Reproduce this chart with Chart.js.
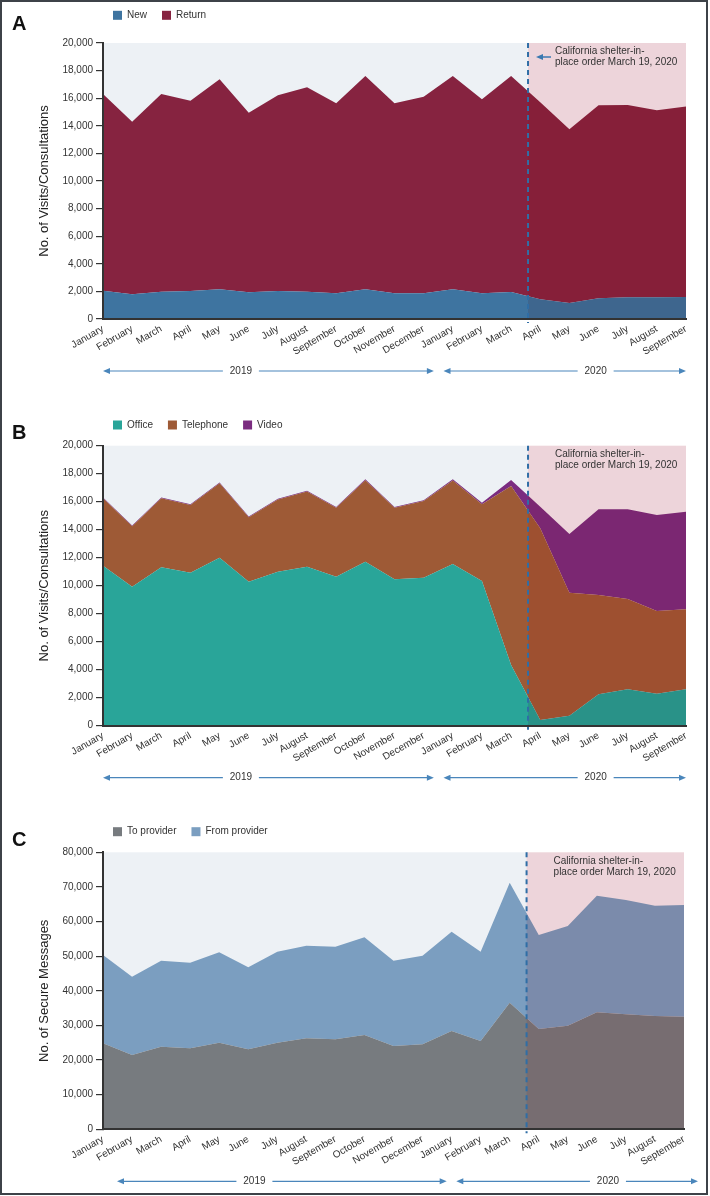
<!DOCTYPE html>
<html>
<head>
<meta charset="utf-8">
<title>Visits and secure messages</title>
<script src="https://cdn.jsdelivr.net/npm/chart.js@4.4.1/dist/chart.umd.min.js"></script>
<style>
  html, body { margin: 0; padding: 0; background: #fff; }
  .panel { position: absolute; left: 0; }
  .frame { position: absolute; left: 0; top: 0; width: 708px; height: 1195px; box-sizing: border-box;
           border: 2px solid #3d4248; pointer-events: none; }
</style>
</head>
<body>
<div class="panel" style="top:0"><canvas id="chartA" width="710" height="398"></canvas></div>
<div class="panel" style="top:398px"><canvas id="chartB" width="710" height="400"></canvas></div>
<div class="panel" style="top:798px"><canvas id="chartC" width="710" height="398"></canvas></div>
<div class="frame"></div>

<script>
const months = ['January', 'February', 'March', 'April', 'May', 'June', 'July', 'August', 'September',
  'October', 'November', 'December', 'January', 'February', 'March', 'April', 'May', 'June', 'July',
  'August', 'September'];
const years = ['2019', '2020'];

// A - visits by patient type
const newVisits = [2050, 1800, 1980, 2030, 2150, 1930, 2030, 1980, 1860, 2150, 1860, 1860, 2150, 1860, 1960,
  1430, 1160, 1500, 1570, 1570, 1600];
const returnVisits = [14250, 12500, 14320, 13790, 15220, 13020, 14180, 14810, 13770, 15450, 13770, 14250, 15450,
  14060, 15640, 14270, 12590, 13990, 13940, 13550, 13790];

// B - visits by type of encounter
const officeVisits = [11430, 9930, 11310, 10930, 12000, 10290, 11000, 11360, 10640, 11710, 10460, 10570, 11550,
  10340, 4340, 410, 710, 2240, 2600, 2290, 2600];
const phoneVisits = [4810, 4310, 4930, 4830, 5310, 4600, 5150, 5370, 4930, 5830, 5110, 5480, 5970, 5480, 12780,
  13690, 8790, 7100, 6450, 5900, 5710];
const videoVisits = [60, 60, 60, 60, 60, 60, 60, 60, 60, 60, 60, 60, 80, 100, 430, 1540, 4190, 6120, 6410, 6860,
  6980];

// C - secure messages
const toProvider = [24840, 21460, 23860, 23390, 25010, 23100, 25010, 26280, 25990, 27230, 24060, 24550, 28390,
  25500, 36560, 28970, 29920, 33790, 33210, 32720, 32520];
const fromProvider = [25500, 22610, 24830, 24730, 26110, 23690, 26290, 26750, 26750, 28220, 24630, 25590, 28680,
  25800, 34660, 27150, 28790, 33680, 33010, 31860, 32260];

const shelterIndex = 14 + 18 / 31; // March 19, 2020
const noteLines = ['California shelter-in-', 'place order March 19, 2020'];
const yearBands = [{ from: 0, to: 11.35, text: 4.73 }, { from: 11.68, to: 20, text: 16.9 }];

const FONT = '"Liberation Sans", Arial, Helvetica, sans-serif';
Chart.defaults.font.family = FONT;
Chart.defaults.color = '#333';

function arrowHead(ctx, x, y, dir) {
  ctx.beginPath();
  ctx.moveTo(x, y);
  ctx.lineTo(x - dir * 7, y - 3);
  ctx.lineTo(x - dir * 7, y + 3);
  ctx.closePath();
  ctx.fill();
}

const decor = {
  id: 'decor',
  beforeDraw(chart) {
    const { ctx, chartArea: a } = chart;
    ctx.save();
    ctx.fillStyle = '#edf1f5';
    ctx.fillRect(a.left, a.top, a.right - a.left, a.bottom - a.top);
    ctx.restore();
  },
  afterDatasetsDraw(chart, args, o) {
    const { ctx, chartArea: a } = chart;
    const dx = chart.scales.x.getPixelForValue(shelterIndex);
    ctx.save();
    // pink shade after the shelter order
    ctx.globalCompositeOperation = 'multiply';
    ctx.fillStyle = 'rgb(255, 225, 227)';
    ctx.fillRect(dx, a.top, a.right - dx, a.bottom - a.top);
    ctx.globalCompositeOperation = 'source-over';
    // dashed marker
    ctx.strokeStyle = '#2f6ea6';
    ctx.lineWidth = 2;
    ctx.setLineDash([5, 4]);
    ctx.beginPath();
    ctx.moveTo(dx, a.top);
    ctx.lineTo(dx, a.bottom + 4);
    ctx.stroke();
    ctx.setLineDash([]);
    // note
    ctx.fillStyle = '#333';
    ctx.font = '10px ' + FONT;
    ctx.textBaseline = 'middle';
    noteLines.forEach((t, i) => ctx.fillText(t, dx + 27, a.top + 8.5 + i * 11));
    if (o.noteArrow) {
      ctx.strokeStyle = ctx.fillStyle = '#3a78b0';
      ctx.lineWidth = 1.5;
      ctx.beginPath();
      ctx.moveTo(dx + 23, a.top + 14);
      ctx.lineTo(dx + 12, a.top + 14);
      ctx.stroke();
      arrowHead(ctx, dx + 8, a.top + 14, -1);
    }
    ctx.restore();
  },
  afterDraw(chart, args, o) {
    const { ctx, chartArea: a } = chart;
    const x = chart.scales.x;
    ctx.save();
    // panel letter
    ctx.fillStyle = '#111';
    ctx.font = 'bold 20px ' + FONT;
    ctx.textBaseline = 'alphabetic';
    ctx.fillText(o.letter, 12, o.letterY);
    // legend
    ctx.font = '10px ' + FONT;
    ctx.textBaseline = 'middle';
    let lx = a.left + 10;
    chart.data.datasets.forEach(ds => {
      ctx.fillStyle = ds.backgroundColor;
      ctx.fillRect(lx, o.legendY - 4.5, 9, 9);
      ctx.fillStyle = '#333';
      ctx.fillText(ds.label, lx + 14, o.legendY);
      lx += 14 + ctx.measureText(ds.label).width + 15;
    });
    // year arrows
    const y = a.bottom + 52;
    ctx.textAlign = 'center';
    yearBands.forEach((b, i) => {
      const x1 = x.getPixelForValue(b.from) + o.yearShift;
      const x2 = x.getPixelForValue(b.to) + o.yearShift;
      const xt = x.getPixelForValue(b.text) + o.yearShift;
      ctx.strokeStyle = ctx.fillStyle = '#4a86bb';
      ctx.lineWidth = 1.2;
      ctx.beginPath();
      ctx.moveTo(x1 + 3, y);
      ctx.lineTo(xt - 18, y);
      ctx.moveTo(xt + 18, y);
      ctx.lineTo(x2 - 3, y);
      ctx.stroke();
      arrowHead(ctx, x1, y, -1);
      arrowHead(ctx, x2, y, 1);
      ctx.fillStyle = '#333';
      ctx.fillText(years[i], xt, y);
    });
    ctx.restore();
  }
};

function area(label, data, color, first) {
  return {
    label: label,
    data: data,
    backgroundColor: color,
    borderColor: 'transparent',
    borderWidth: 0,
    pointRadius: 0,
    tension: 0,
    fill: first ? 'origin' : '-1'
  };
}

function makeChart(id, p) {
  const canvas = document.getElementById(id);
  new Chart(canvas, {
    type: 'line',
    data: { labels: months, datasets: p.datasets },
    plugins: [decor],
    options: {
      responsive: false,
      animation: false,
      layout: { padding: { top: p.areaTop, right: p.right, bottom: 0, left: 0 } },
      plugins: {
        legend: { display: false },
        tooltip: { enabled: false },
        decor: { letter: p.letter, letterY: p.letterY, legendY: p.legendY, noteArrow: p.noteArrow,
                 yearShift: p.yearShift }
      },
      scales: {
        x: {
          grid: { display: true, drawOnChartArea: false, drawTicks: false },
          border: { display: true, color: '#333', width: 2, z: 1 },
          ticks: { autoSkip: false, minRotation: 30, maxRotation: 30, padding: 4,
                   font: { size: 10 }, color: '#333' },
          afterFit: s => { s.height = canvas.height - p.areaBottom; }
        },
        y: {
          stacked: true,
          min: 0,
          max: p.yMax,
          grid: { drawOnChartArea: false, drawTicks: true, tickLength: 7, color: '#333', lineWidth: 1.2 },
          border: { display: true, color: '#333', width: 2, z: 1 },
          ticks: { stepSize: p.yStep, padding: 3, font: { size: 10 }, color: '#333' },
          title: { display: true, text: p.yTitle, color: '#222', font: { size: 13, lineHeight: 1.2 },
                   padding: { top: 37, bottom: 0 } },
          afterFit: s => { s.width = 103; }
        }
      }
    }
  });
}

makeChart('chartA', {
  letter: 'A', letterY: 29.5, legendY: 15.3, noteArrow: true, yearShift: 0,
  areaTop: 43, areaBottom: 319, right: 24, yMax: 20000, yStep: 2000,
  yTitle: 'No. of Visits/Consultations',
  datasets: [area('New', newVisits, '#3e74a0', true), area('Return', returnVisits, '#862340')]
});

makeChart('chartB', {
  letter: 'B', letterY: 41, legendY: 27, noteArrow: false, yearShift: 0,
  areaTop: 47.7, areaBottom: 327.7, right: 24, yMax: 20000, yStep: 2000,
  yTitle: 'No. of Visits/Consultations',
  datasets: [area('Office', officeVisits, '#29a599', true), area('Telephone', phoneVisits, '#9e5a36'),
             area('Video', videoVisits, '#7b2c80')]
});

makeChart('chartC', {
  letter: 'C', letterY: 48, legendY: 33.7, noteArrow: false, yearShift: 14,
  areaTop: 54.3, areaBottom: 331.3, right: 26, yMax: 80000, yStep: 10000,
  yTitle: 'No. of Secure Messages',
  datasets: [area('To provider', toProvider, '#777b7f', true), area('From provider', fromProvider, '#7b9ec0')]
});
</script>
</body>
</html>
